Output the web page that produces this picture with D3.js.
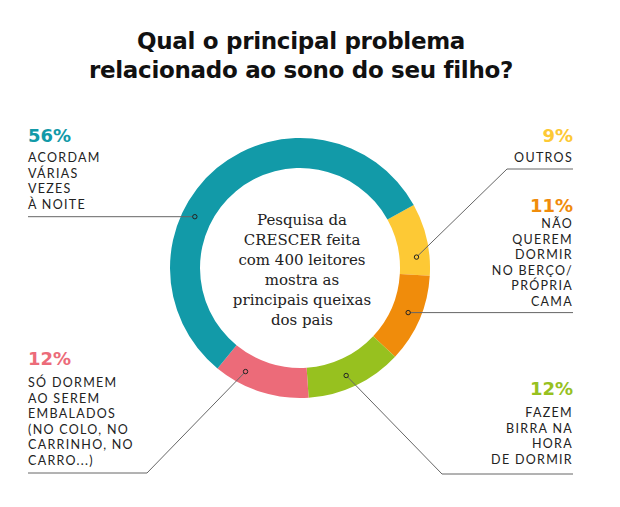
<!DOCTYPE html>
<meta charset="utf-8">
<style>
    body { margin: 0; background: #fff; }
    svg { display: block; }
    .title { font-family: "DejaVu Sans", sans-serif; font-weight: bold; font-size: 23px; fill: #111; letter-spacing: -0.3px; }
    .pct { font-family: "DejaVu Sans", sans-serif; font-weight: bold; font-size: 18px; }
    .lbl { font-family: Lato, sans-serif; font-weight: 400; font-size: 12.5px; letter-spacing: 1.3px; fill: #222; }
    .center { font-family: "DejaVu Serif", serif; font-size: 15px; fill: #222; }
    .lead { fill: none; stroke: #666; stroke-width: 1; }
</style>
<body>
<script src="https://d3js.org/d3.v7.min.js"></script>
<script>
    // survey answers, clockwise from the yellow slice
    const categories = ['outros', 'berco', 'birra', 'embalados', 'acordam'];
    const values = [9, 11, 12, 12, 56];
    const colors = ['#fdc935', '#f08c0b', '#97c11f', '#ec6b79', '#129aa8'];
    const percentLabels = ['9%', '11%', '12%', '12%', '56%'];
    const textLines = [
        ['OUTROS'],
        ['NÃO', 'QUEREM', 'DORMIR', 'NO BERÇO/', 'PRÓPRIA', 'CAMA'],
        ['FAZEM', 'BIRRA NA', 'HORA', 'DE DORMIR'],
        ['SÓ DORMEM', 'AO SEREM', 'EMBALADOS', '(NO COLO, NO', 'CARRINHO, NO', 'CARRO...)'],
        ['ACORDAM', 'VÁRIAS', 'VEZES', 'À NOITE']
    ];
    const titleLines = ['Qual o principal problema', 'relacionado ao sono do seu filho?'];
    const centerLines = ['Pesquisa da', 'CRESCER feita', 'com 400 leitores', 'mostra as', 'principais queixas', 'dos pais'];

    const width = 620, height = 507;
    const cx = 300, cy = 268;
    const outerR = 130, innerR = 100;

    // label block placement; "at" = where along its slice the leader starts
    const layout = [
        {side: 'right', at: 0.73, pctY: 142, textY: 162, lineY: 169, bendX: 507},
        {side: 'right', at: 0.48, pctY: 212, textY: 228, lineY: null, bendX: null},
        {side: 'right', at: 0.55, pctY: 395, textY: 417, lineY: 474, bendX: 442},
        {side: 'left',  at: 0.73, pctY: 365, textY: 387, lineY: 473, bendX: 147},
        {side: 'left',  at: 0.38, pctY: 142, textY: 162, lineY: null, bendX: null}
    ];
    const leftX = 28, rightX = 573, lineH = 15.6;

    const svg = d3.select('body').append('svg')
        .attr('width', width)
        .attr('height', height);

    svg.selectAll('.title')
        .data(titleLines)
        .enter().append('text')
        .attr('class', 'title')
        .attr('x', 301)
        .attr('y', (d, i) => 49 + i * 29)
        .attr('text-anchor', 'middle')
        .text(d => d);

    const start = 61 * Math.PI / 180;
    const pie = d3.pie().sort(null)
        .startAngle(start)
        .endAngle(start + 2 * Math.PI);
    const arcs = pie(values);

    const arc = d3.arc().innerRadius(innerR).outerRadius(outerR);
    const midR = (innerR + outerR) / 2 + 2;

    const donut = svg.append('g').attr('transform', `translate(${cx},${cy})`);
    donut.selectAll('path')
        .data(arcs)
        .enter().append('path')
        .attr('d', arc)
        .attr('fill', (d, i) => colors[i]);

    // leader lines
    arcs.forEach((d, i) => {
        const L = layout[i];
        const a = d.startAngle + (d.endAngle - d.startAngle) * L.at;
        const px = cx + midR * Math.sin(a), py = cy - midR * Math.cos(a);
        const endX = L.side === 'left' ? leftX : rightX;
        const pts = L.bendX === null
            ? [[px, py], [endX, py]]
            : [[px, py], [L.bendX, L.lineY], [endX, L.lineY]];
        svg.append('path')
            .attr('class', 'lead')
            .attr('d', d3.line()(pts));
        svg.append('circle')
            .attr('cx', px).attr('cy', py).attr('r', 2.2)
            .attr('fill', colors[i])
            .attr('stroke', '#222').attr('stroke-width', 1);
    });

    // label blocks
    layout.forEach((L, i) => {
        const x = L.side === 'left' ? leftX : rightX;
        const anchor = L.side === 'left' ? 'start' : 'end';
        svg.append('text')
            .attr('class', 'pct')
            .attr('x', x).attr('y', L.pctY)
            .attr('text-anchor', anchor)
            .attr('fill', colors[i])
            .text(percentLabels[i]);
        svg.append('g').selectAll('text')
            .data(textLines[i])
            .enter().append('text')
            .attr('class', 'lbl')
            .attr('x', x)
            .attr('y', (d, j) => L.textY + j * lineH)
            .attr('text-anchor', anchor)
            .text(d => d);
    });

    svg.selectAll('.center')
        .data(centerLines)
        .enter().append('text')
        .attr('class', 'center')
        .attr('x', 302)
        .attr('y', (d, i) => 225 + i * 20)
        .attr('text-anchor', 'middle')
        .text(d => d);
</script>
</body>
</html>
